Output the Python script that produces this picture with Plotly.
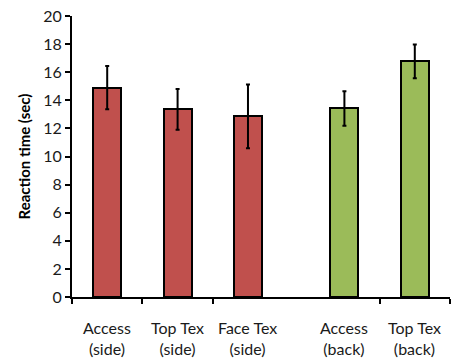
import plotly.graph_objects as go

# Reaction time per condition, two viewpoint groups
categories = ["Access<br>(side)", "Top Tex<br>(side)", "Face Tex<br>(side)",
              "Access<br>(back)", "Top Tex<br>(back)"]
groups = ["side", "side", "side", "back", "back"]
means = [14.9, 13.35, 12.86, 13.42, 16.77]
errors = [1.54, 1.45, 2.27, 1.23, 1.2]
y_ticks = [0, 2, 4, 6, 8, 10, 12, 14, 16, 18, 20]

group_colors = {"side": "#C0504D", "back": "#9BBB59"}
GROUP_GAP = 0.37  # extra spacing between the side and back groups
FONT = "Lato"

# slot positions: one unit per bar, plus a gap before the second group
x_pos = []
for i, g in enumerate(groups):
    x_pos.append(i + (GROUP_GAP if g == "back" else 0.0))

fig = go.Figure()
fig.add_trace(go.Bar(
    x=x_pos,
    y=means,
    width=0.4,
    marker=dict(color=[group_colors[g] for g in groups],
                line=dict(color="black", width=2)),
    error_y=dict(type="data", array=errors, visible=True,
                 color="black", thickness=2, width=2),
    showlegend=False,
))

# category boundary ticks (side group slots, then back group slots)
side_idx = [x for x, g in zip(x_pos, groups) if g == "side"]
back_idx = [x for x, g in zip(x_pos, groups) if g == "back"]
tick_positions = [side_idx[0] - 0.5] + [x + 0.5 for x in side_idx[:-1]] + \
                 [x + 0.5 for x in back_idx]

for x, label in zip(x_pos, categories):
    fig.add_annotation(x=x, y=0, xref="x", yref="y", text=label,
                       showarrow=False, yshift=-41,
                       font=dict(family=FONT, size=16, color="#1a1a1a"),
                       align="center")

fig.update_layout(
    width=455, height=360,
    margin=dict(l=72, r=5, t=16, b=63),
    paper_bgcolor="white", plot_bgcolor="white",
    bargap=0,
)
fig.update_xaxes(
    range=[side_idx[0] - 0.5, back_idx[-1] + 0.5],
    tickvals=tick_positions, ticktext=[""] * len(tick_positions),
    ticks="outside", ticklen=5, tickwidth=2, tickcolor="black",
    showline=True, linecolor="black", linewidth=2,
    showgrid=False, zeroline=False,
)
fig.update_yaxes(
    range=[0, 20], tickvals=y_ticks,
    ticks="outside", ticklen=5, tickwidth=2, tickcolor="black",
    showline=True, linecolor="black", linewidth=2,
    showgrid=False, zeroline=False,
    tickfont=dict(family=FONT, size=16, color="#1a1a1a"),
    title=dict(text="<b>Reaction time (sec)</b>", standoff=9,
               font=dict(family=FONT, size=15, color="black")),
)

fig.write_html("out.html")
